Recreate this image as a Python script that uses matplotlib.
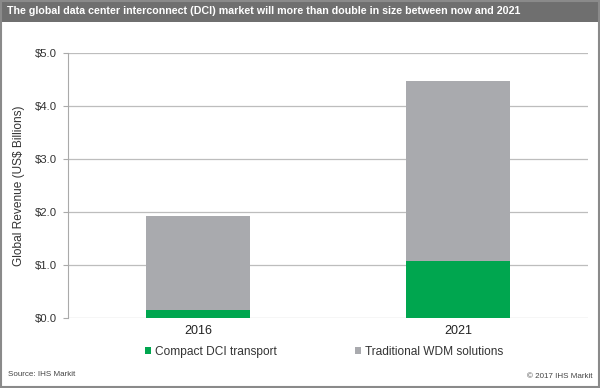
import matplotlib
matplotlib.use("Agg")
import matplotlib.pyplot as plt
from matplotlib.patches import Rectangle

plt.rcParams['font.family'] = ['Liberation Sans', 'DejaVu Sans']

years = ["2016", "2021"]
compact_dci = [0.15, 1.07]
traditional_wdm = [1.77, 3.40]
series_names = ["Compact DCI transport", "Traditional WDM solutions"]
yticks = [0.0, 1.0, 2.0, 3.0, 4.0, 5.0]
ytick_labels = ["$0.0", "$1.0", "$2.0", "$3.0", "$4.0", "$5.0"]

green = "#00A64F"
gray = "#A9AAAE"

fig = plt.figure(figsize=(6, 3.88), dpi=100)
fig.patch.set_facecolor("white")

# title bar
fig.add_artist(Rectangle((0, 1 - 22/388), 1, 22/388, transform=fig.transFigure,
                         facecolor="#6F6F6F", edgecolor="none", zorder=0))
fig.text(0.012, 1 - 11/388, "The global data center interconnect (DCI) market will more than double in size between now and 2021",
         color="white", fontsize=7.7, fontweight="bold", va="center", ha="left")
# outer border
fig.add_artist(Rectangle((0.001, 0.002), 0.997, 0.996, transform=fig.transFigure,
                         facecolor="none", edgecolor="#8A8A8A", linewidth=1.5, zorder=5))

ax = fig.add_axes([68/600, 1 - 318/388, 520/600, 265/388])
x = list(range(len(years)))
ax.bar(x, compact_dci, width=0.40, color=green, label=series_names[0], zorder=3)
ax.bar(x, traditional_wdm, width=0.40, bottom=compact_dci, color=gray, label=series_names[1], zorder=3)

ax.set_xlim(-0.5, 1.5)
ax.set_ylim(0, 5.0)
ax.set_yticks(yticks)
ax.set_yticklabels(ytick_labels, fontsize=8.2, color="#333333")
ax.set_xticks(x)
ax.set_xticklabels(years, fontsize=9, color="#222222")
ax.tick_params(axis="x", length=0, pad=5)
ax.tick_params(axis="y", length=3.5, color="#AAAAAA", pad=4.5)
ax.yaxis.grid(True, color="#BDBDBD", linewidth=0.9, zorder=0)
ax.set_axisbelow(True)
for s in ["top", "right", "bottom"]:
    ax.spines[s].set_visible(False)
ax.spines["left"].set_color("#AAAAAA")
ax.set_ylabel("Global Revenue (US$ Billions)", fontsize=8.6, color="#333333", labelpad=7)

leg = fig.legend(loc="center left", bbox_to_anchor=(0.234, 0.093), ncol=2, frameon=False,
                 fontsize=8.6, handlelength=0.5, handleheight=0.5, handletextpad=0.35,
                 columnspacing=6.5, borderaxespad=0)
for t in leg.get_texts():
    t.set_color("#333333")

fig.text(0.013, 0.035, "Source: IHS Markit", fontsize=5.8, color="#444444", va="center")
fig.text(0.988, 0.030, "© 2017 IHS Markit", fontsize=5.8, color="#444444", va="center", ha="right")

fig.savefig("out.png", dpi=100)
